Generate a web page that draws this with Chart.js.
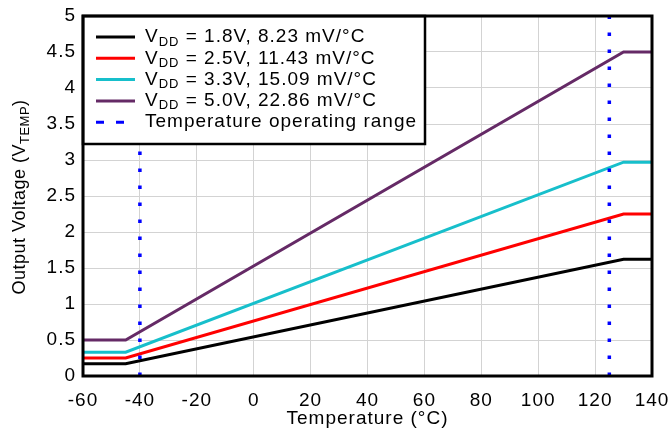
<!DOCTYPE html>
<html>
<head>
<meta charset="utf-8">
<script src="https://cdn.jsdelivr.net/npm/chart.js@4"></script>
<style>
  html, body { margin: 0; padding: 0; background: #fff; }
  #wrap { width: 668px; height: 429px; }
</style>
</head>
<body>
<div id="wrap"><canvas id="chart"></canvas></div>
<script>
// values
const temps = [-60, -45, 130, 140];
const vdd18 = [0.17, 0.17, 1.62, 1.62];
const vdd25 = [0.25, 0.25, 2.25, 2.25];
const vdd33 = [0.33, 0.33, 2.97, 2.97];
const vdd50 = [0.5, 0.5, 4.5, 4.5];
const rangeLimits = [-40, 125];
const rangeY = [0, 5];

const xTicks = { min: -60, max: 140, step: 20 };
const yTicks = { min: 0, max: 5, step: 0.5 };

const legendItems = [
    { color: '#000000', main: 'V', sub: 'DD', rest: ' = 1.8V, 8.23 mV/\u00B0C' },
    { color: '#ff0000', main: 'V', sub: 'DD', rest: ' = 2.5V, 11.43 mV/\u00B0C' },
    { color: '#17bfcb', main: 'V', sub: 'DD', rest: ' = 3.3V, 15.09 mV/\u00B0C' },
    { color: '#652a66', main: 'V', sub: 'DD', rest: ' = 5.0V, 22.86 mV/\u00B0C' },
    { color: '#0000ff', dashed: true, main: 'Temperature operating range' }
];

const FONT = '"Liberation Sans", Arial, sans-serif';

function series(ys) {
    return temps.map((t, i) => ({ x: t, y: ys[i] }));
}

function vline(x) {
    return rangeY.map(y => ({ x: x, y: y }));
}

const dottedStyle = {
    borderColor: '#0000ff',
    borderWidth: 3.5,
    borderDash: [3.5, 13.5],
    pointRadius: 0,
    fill: false
};

const data = {
    datasets: [
        Object.assign({ label: 'range low', data: vline(rangeLimits[0]) }, dottedStyle),
        Object.assign({ label: 'range high', data: vline(rangeLimits[1]) }, dottedStyle),
        { label: 'VDD 1.8', data: series(vdd18), borderColor: '#000000', borderWidth: 3, pointRadius: 0 },
        { label: 'VDD 2.5', data: series(vdd25), borderColor: '#ff0000', borderWidth: 3, pointRadius: 0 },
        { label: 'VDD 3.3', data: series(vdd33), borderColor: '#17bfcb', borderWidth: 3, pointRadius: 0 },
        { label: 'VDD 5.0', data: series(vdd50), borderColor: '#652a66', borderWidth: 3, pointRadius: 0 }
    ]
};

// wider letter spacing like the original figure's font
const spacing = {
    id: 'spacing',
    beforeInit(chart) { chart.ctx.letterSpacing = '1px'; },
    beforeDraw(chart) { chart.ctx.letterSpacing = '1px'; }
};

// frame, legend box and the axis titles with the subscript
const decorations = {
    id: 'decorations',
    afterDraw(chart) {
        const ctx = chart.ctx;
        const a = chart.chartArea;
        ctx.save();
        ctx.letterSpacing = '1px';

        // legend box
        const bx = a.left, by = a.top, bw = 342, bh = 128;
        ctx.fillStyle = '#ffffff';
        ctx.fillRect(bx, by, bw, bh);
        ctx.strokeStyle = '#000000';
        ctx.lineWidth = 2.5;
        ctx.strokeRect(bx, by, bw, bh);

        legendItems.forEach((item, i) => {
            const y = by + 21 + i * 21.3;
            ctx.beginPath();
            ctx.strokeStyle = item.color;
            ctx.lineWidth = 3;
            ctx.setLineDash(item.dashed ? [8, 12] : []);
            ctx.moveTo(bx + 13, y);
            ctx.lineTo(bx + 52, y);
            ctx.stroke();
            ctx.setLineDash([]);

            ctx.fillStyle = '#000000';
            ctx.textBaseline = 'middle';
            ctx.textAlign = 'left';
            let tx = bx + 62;
            ctx.font = '19px ' + FONT;
            ctx.fillText(item.main, tx, y);
            tx += ctx.measureText(item.main).width;
            if (item.sub) {
                ctx.font = '13px ' + FONT;
                ctx.fillText(item.sub, tx, y + 5);
                tx += ctx.measureText(item.sub).width;
                ctx.font = '19px ' + FONT;
                ctx.fillText(item.rest, tx, y);
            }
        });

        // frame around plot
        ctx.strokeStyle = '#000000';
        ctx.lineWidth = 3;
        ctx.strokeRect(a.left, a.top, a.right - a.left, a.bottom - a.top);

        // x title
        ctx.fillStyle = '#000000';
        ctx.textAlign = 'center';
        ctx.textBaseline = 'middle';
        ctx.font = '19px ' + FONT;
        ctx.fillText('Temperature (\u00B0C)', (a.left + a.right) / 2, 419);

        // y title
        ctx.letterSpacing = '0.5px';
        ctx.translate(20, 197);
        ctx.rotate(-Math.PI / 2);
        const p1 = 'Output Voltage (V', p2 = 'TEMP', p3 = ')';
        ctx.font = '18px ' + FONT;
        const w1 = ctx.measureText(p1).width, w3 = ctx.measureText(p3).width;
        ctx.font = '13px ' + FONT;
        const w2 = ctx.measureText(p2).width;
        const x0 = -(w1 + w2 + w3) / 2;
        ctx.textAlign = 'left';
        ctx.font = '18px ' + FONT;
        ctx.fillText(p1, x0, 0);
        ctx.font = '13px ' + FONT;
        ctx.fillText(p2, x0 + w1, 5);
        ctx.font = '18px ' + FONT;
        ctx.fillText(p3, x0 + w1 + w2, 0);
        ctx.restore();
    }
};

new Chart(document.getElementById('chart'), {
    type: 'line',
    data: data,
    options: {
        responsive: true,
        maintainAspectRatio: false,
        animation: false,
        layout: { padding: { left: 0, right: 16, top: 16, bottom: 0 } },
        plugins: {
            legend: { display: false },
            tooltip: { enabled: false }
        },
        scales: {
            x: {
                type: 'linear',
                min: xTicks.min,
                max: xTicks.max,
                afterFit(scale) {
                    scale.height = 53;
                    scale.paddingLeft = 0;
                    scale.paddingRight = 0;
                },
                ticks: {
                    stepSize: xTicks.step,
                    color: '#000000',
                    padding: 13,
                    font: { family: FONT, size: 19 }
                },
                grid: { color: '#d3d3d3', lineWidth: 1, drawTicks: false },
                border: { display: false }
            },
            y: {
                type: 'linear',
                min: yTicks.min,
                max: yTicks.max,
                afterFit(scale) {
                    scale.width = 83;
                    scale.paddingTop = 0;
                    scale.paddingBottom = 0;
                },
                ticks: {
                    stepSize: yTicks.step,
                    color: '#000000',
                    padding: 7,
                    font: { family: FONT, size: 19 },
                    callback: v => String(v)
                },
                grid: { color: '#d3d3d3', lineWidth: 1, drawTicks: false },
                border: { display: false }
            }
        }
    },
    plugins: [spacing, decorations]
});
</script>
</body>
</html>
